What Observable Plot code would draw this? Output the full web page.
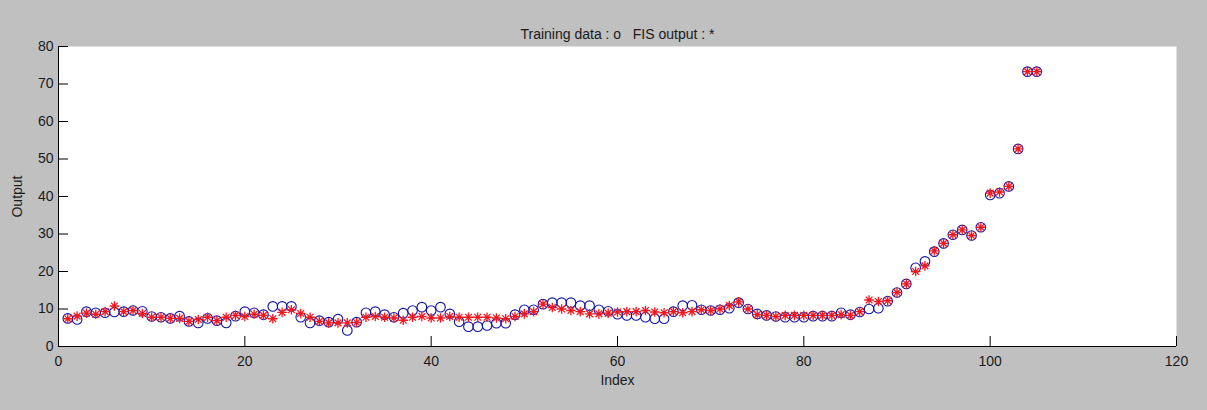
<!DOCTYPE html>
<html>
<head>
<meta charset="utf-8">
<script src="https://cdn.jsdelivr.net/npm/d3@7"></script>
<script src="https://cdn.jsdelivr.net/npm/@observablehq/plot@0.6"></script>
<style>
  html, body { margin: 0; padding: 0; background: #c0c0c0; }
  #chart { width: 1207px; height: 410px; }
</style>
</head>
<body>
<div id="chart"></div>
<script>
const titleText = "Training data : o   FIS output : *";
const xLabel = "Index";
const yLabel = "Output";
const xTicks = [0, 20, 40, 60, 80, 100, 120];
const yTicks = [0, 10, 20, 30, 40, 50, 60, 70, 80];

const training = [
  7.5, 7.2, 9.3, 9.0, 9.0, 9.2, 9.3, 9.6, 9.4, 8.0,
  7.8, 7.5, 8.1, 6.7, 6.3, 7.5, 6.9, 6.3, 8.1, 9.3,
  9.0, 8.5, 10.7, 10.7, 10.7, 7.8, 6.3, 6.9, 6.5, 7.3,
  4.3, 6.5, 9.0, 9.3, 8.5, 7.8, 8.9, 9.6, 10.5, 9.6,
  10.5, 8.7, 6.6, 5.3, 5.3, 5.6, 6.2, 6.2, 8.5, 9.8,
  9.8, 11.3, 11.7, 11.7, 11.7, 10.9, 10.9, 9.8, 9.4, 8.6,
  8.3, 8.3, 7.8, 7.4, 7.4, 9.3, 10.9, 11.0, 9.8, 9.6,
  9.8, 10.2, 11.7, 10.0, 8.7, 8.3, 8.0, 7.8, 7.8, 7.8,
  8.1, 8.1, 8.1, 9.0, 8.5, 9.2, 10.0, 10.2, 12.1, 14.4,
  16.7, 21.0, 22.7, 25.3, 27.5, 29.8, 31.1, 29.6, 31.8, 40.4,
  40.9, 42.7, 52.7, 73.3, 73.3
];
const fisOutput = [
  7.4, 8.1, 8.9, 8.6, 9.3, 10.8, 9.3, 9.6, 8.8, 7.8,
  7.8, 7.5, 7.5, 6.7, 7.2, 7.8, 6.9, 7.8, 8.3, 8.0,
  8.6, 8.3, 7.4, 9.1, 9.8, 8.8, 7.8, 6.7, 6.3, 6.3,
  6.3, 6.4, 7.8, 8.0, 7.8, 7.6, 7.0, 7.8, 8.0, 7.6,
  7.6, 8.0, 7.8, 7.8, 7.8, 7.8, 7.6, 7.4, 8.0, 8.7,
  9.3, 11.3, 10.4, 10.0, 9.6, 9.3, 8.7, 8.7, 8.9, 9.2,
  9.3, 9.3, 9.6, 9.2, 9.0, 9.3, 9.0, 9.3, 9.8, 9.6,
  10.0, 10.9, 11.9, 10.0, 8.5, 8.3, 8.0, 8.3, 8.3, 8.3,
  8.3, 8.3, 8.3, 8.5, 8.3, 9.3, 12.4, 12.0, 12.2, 14.4,
  16.7, 20.0, 21.5, 25.5, 27.5, 29.8, 31.1, 29.6, 31.8, 40.9,
  41.2, 42.7, 52.7, 73.3, 73.3
];

const trainRows = training.map((v, i) => ({index: i + 1, value: v}));
const fisRows = fisOutput.map((v, i) => ({index: i + 1, value: v}));

// MATLAB-like asterisk: plus + cross
const matlabStar = {
  draw(context, size) {
    const r = Math.sqrt(size / Math.PI);
    const d = r * Math.SQRT1_2;
    context.moveTo(-r, 0); context.lineTo(r, 0);
    context.moveTo(0, -r); context.lineTo(0, r);
    context.moveTo(-d, -d); context.lineTo(d, d);
    context.moveTo(-d, d); context.lineTo(d, -d);
  }
};

const font = "'Liberation Sans', Arial, sans-serif";

const chart = Plot.plot({
  width: 1207,
  height: 410,
  marginTop: 46,
  marginLeft: 58,
  marginRight: 31,
  marginBottom: 64,
  style: {background: "#c0c0c0", fontFamily: font, fontSize: "14px", color: "#1a1a1a", overflow: "visible"},
  x: {domain: [0, 120]},
  y: {domain: [0, 80]},
  marks: [
    Plot.frame({fill: "white", stroke: null}),
    Plot.ruleY([0], {stroke: "black", strokeWidth: 1}),
    Plot.ruleX([0], {stroke: "black", strokeWidth: 1}),
    Plot.axisX({ticks: xTicks, tickSize: -10, tickPadding: 20, stroke: "black", fill: "#1a1a1a", fontSize: 14, label: xLabel, labelAnchor: "center", labelArrow: "none", labelOffset: 38}),
    Plot.axisY({ticks: yTicks, tickSize: -10, tickPadding: 15, stroke: "black", fill: "#1a1a1a", fontSize: 14, label: yLabel, labelAnchor: "center", labelArrow: "none", labelOffset: 46}),
    Plot.dot(trainRows, {x: "index", y: "value", r: 4.8, stroke: "#1414a0", strokeWidth: 1.1, fill: "none"}),
    Plot.dot(fisRows, {x: "index", y: "value", r: 4.8, symbol: matlabStar, stroke: "#f01820", strokeWidth: 1.3, fill: "none"}),
    Plot.text([titleText], {frameAnchor: "top", dy: -17, text: d => d, fontSize: 14, fill: "#1a1a1a"})
  ]
});
document.getElementById("chart").appendChild(chart);
</script>
</body>
</html>
